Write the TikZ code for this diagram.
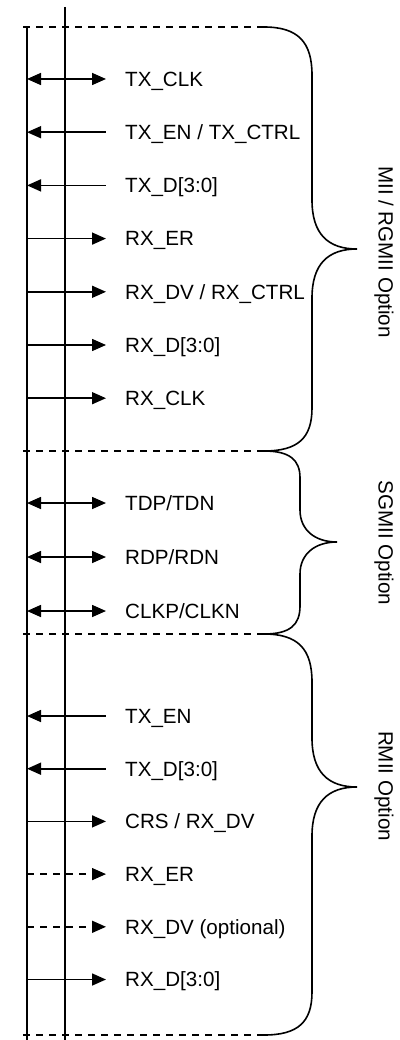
\documentclass[tikz,border=0pt]{standalone}
\usepackage{fontspec}
\setmainfont{Liberation Sans}
\usetikzlibrary{arrows.meta}
\begin{document}
\begin{tikzpicture}[x=1pt,y=-1pt,
  sig/.style={line width=1.6pt},
  dsig/.style={line width=1.6pt, dash pattern=on 7pt off 6pt},
  bi/.style={{Triangle[length=14pt,width=12pt]}-{Triangle[length=14pt,width=12pt]}},
  inn/.style={{Triangle[length=14pt,width=12pt]}-},
  outt/.style={-{Triangle[length=14pt,width=12pt]}},
  lab/.style={anchor=base west, font=\fontsize{20.6}{24}\selectfont, inner sep=0pt},
  opt/.style={rotate=-90, font=\fontsize{20.6}{24}\selectfont, inner sep=0pt},
  sep/.style={line width=1.6pt, dash pattern=on 7pt off 6pt},
  brc/.style={line width=1.6pt, line join=miter}]
\useasboundingbox (0,0) rectangle (399,1040);

% vertical rails
\coordinate (a1) at (27,27);  \coordinate (a2) at (27,1040);
\coordinate (b1) at (65,7);   \coordinate (b2) at (65,1040);
\draw[line width=1.9pt] (a1) -- (a2);
\draw[line width=1.9pt] (b1) -- (b2);

% separators
\coordinate (s0a) at (23,27);   \coordinate (s0b) at (264,27);
\coordinate (s1a) at (23,451);  \coordinate (s1b) at (264,451);
\coordinate (s2a) at (23,634);  \coordinate (s2b) at (264,634);
\coordinate (s3a) at (23,1035); \coordinate (s3b) at (264,1035);
\draw[sep] (s0a) -- (s0b);
\draw[sep] (s1a) -- (s1b);
\draw[sep] (s2a) -- (s2b);
\draw[sep] (s3a) -- (s3b);

% braces
\draw[brc] (s0b) .. controls (298,27) and (312,42) .. (312,75) -- (312,200)
  .. controls (312,234) and (328,249) .. (357,249)
  .. controls (328,249) and (312,264) .. (312,298) -- (312,408)
  .. controls (312,438) and (298,451) .. (s1b);
\draw[brc] (s1b) .. controls (290,451) and (300,460) .. (300,478) -- (300,510)
  .. controls (300,530) and (315,542) .. (337,542)
  .. controls (315,542) and (300,554) .. (300,574) -- (300,606)
  .. controls (300,625) and (290,634) .. (s2b);
\draw[brc] (s2b) .. controls (298,634) and (312,649) .. (312,682) -- (312,738)
  .. controls (312,772) and (328,787) .. (357,787)
  .. controls (328,787) and (312,802) .. (312,836) -- (312,992)
  .. controls (312,1022) and (298,1035) .. (s3b);

% option labels
\node[opt] (o1) at (384,252) {MII / RGMII Option};
\node[opt] (o2) at (384,543) {SGMII Option};
\node[opt] (o3) at (384,786) {RMII Option};

% signals: MII / RGMII
\coordinate (l1) at (27,79);    \coordinate (r1) at (106,79);
\coordinate (l2) at (27,132.2); \coordinate (r2) at (106,132.2);
\coordinate (l3) at (27,185.4); \coordinate (r3) at (106,185.4);
\coordinate (l4) at (27,238.6); \coordinate (r4) at (106,238.6);
\coordinate (l5) at (27,291.8); \coordinate (r5) at (106,291.8);
\coordinate (l6) at (27,345);   \coordinate (r6) at (106,345);
\coordinate (l7) at (27,398.2); \coordinate (r7) at (106,398.2);
\draw[sig,bi]   (l1) -- (r1);
\draw[sig,inn]  (l2) -- (r2);
\draw[sig,inn]  (l3) -- (r3);
\draw[sig,outt] (l4) -- (r4);
\draw[sig,outt] (l5) -- (r5);
\draw[sig,outt] (l6) -- (r6);
\draw[sig,outt] (l7) -- (r7);
\node[lab] (t1) at (125,86.4)  {TX\_CLK};
\node[lab] (t2) at (125,139.6) {TX\_EN / TX\_CTRL};
\node[lab] (t3) at (125,192.8) {TX\_D[3:0]};
\node[lab] (t4) at (125,246)   {RX\_ER};
\node[lab] (t5) at (125,299.2) {RX\_DV / RX\_CTRL};
\node[lab] (t6) at (125,352.4) {RX\_D[3:0]};
\node[lab] (t7) at (125,405.6) {RX\_CLK};

% signals: SGMII
\coordinate (l8) at (27,503);  \coordinate (r8) at (106,503);
\coordinate (l9) at (27,557);  \coordinate (r9) at (106,557);
\coordinate (l10) at (27,611); \coordinate (r10) at (106,611);
\draw[sig,bi] (l8) -- (r8);
\draw[sig,bi] (l9) -- (r9);
\draw[sig,bi] (l10) -- (r10);
\node[lab] (t8) at (125,510.4)  {TDP/TDN};
\node[lab] (t9) at (125,564.4)  {RDP/RDN};
\node[lab] (t10) at (125,618.4) {CLKP/CLKN};

% signals: RMII
\coordinate (l11) at (27,716);   \coordinate (r11) at (106,716);
\coordinate (l12) at (27,768.7); \coordinate (r12) at (106,768.7);
\coordinate (l13) at (27,821.4); \coordinate (r13) at (106,821.4);
\coordinate (l14) at (27,874.1); \coordinate (r14) at (106,874.1);
\coordinate (l15) at (27,926.8); \coordinate (r15) at (106,926.8);
\coordinate (l16) at (27,979.5); \coordinate (r16) at (106,979.5);
\draw[sig,inn]   (l11) -- (r11);
\draw[sig,inn]   (l12) -- (r12);
\draw[sig,outt]  (l13) -- (r13);
\draw[dsig,outt] (l14) -- (r14);
\draw[dsig,outt] (l15) -- (r15);
\draw[sig,outt]  (l16) -- (r16);
\node[lab] (t11) at (125,723.4) {TX\_EN};
\node[lab] (t12) at (125,776.1) {TX\_D[3:0]};
\node[lab] (t13) at (125,828.8) {CRS / RX\_DV};
\node[lab] (t14) at (125,881.5) {RX\_ER};
\node[lab] (t15) at (125,934.2) {RX\_DV (optional)};
\node[lab] (t16) at (125,986.9) {RX\_D[3:0]};
\end{tikzpicture}
\end{document}
